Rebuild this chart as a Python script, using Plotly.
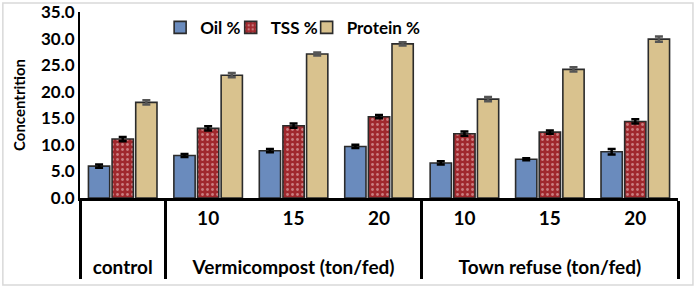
import plotly.graph_objects as go

groups = ["control", "Vermicompost (ton/fed)", "Vermicompost (ton/fed)", "Vermicompost (ton/fed)",
          "Town refuse (ton/fed)", "Town refuse (ton/fed)", "Town refuse (ton/fed)"]
doses = [" ", "10", "15", "20", "10", "15", "20"]

oil = [6.0, 8.0, 8.9, 9.7, 6.6, 7.3, 8.7]
oil_err = [0.3, 0.3, 0.3, 0.3, 0.3, 0.2, 0.5]
tss = [11.1, 13.1, 13.6, 15.3, 12.1, 12.4, 14.4]
tss_err = [0.4, 0.4, 0.4, 0.3, 0.4, 0.3, 0.4]
protein = [18.0, 23.1, 27.1, 29.0, 18.6, 24.2, 29.9]
protein_err = [0.4, 0.4, 0.3, 0.3, 0.4, 0.4, 0.5]

FONT = "Lato"
# outer labels get a leading line break so the second label row sits lower
x = [["<br>" + g for g in groups], doses]

fig = go.Figure()
fig.add_trace(go.Bar(
    name="Oil %", x=x, y=oil, legend="legend",
    error_y=dict(type="data", array=oil_err, color="black", thickness=2.5, width=4),
    marker=dict(color="#6a8bbd", line=dict(color="#2b2b2b", width=1.6)),
))
fig.add_trace(go.Bar(
    name="TSS %", x=x, y=tss, legend="legend2",
    error_y=dict(type="data", array=tss_err, color="black", thickness=2.5, width=4),
    marker=dict(color="#a0282d", line=dict(color="#2b2b2b", width=1.6),
                pattern=dict(shape=".", fgcolor="#f3d6d6", bgcolor="#a0282d", size=5, solidity=0.25)),
))
fig.add_trace(go.Bar(
    name="Protein %", x=x, y=protein, legend="legend3",
    error_y=dict(type="data", array=protein_err, color="#555555", thickness=2.5, width=4),
    marker=dict(color="#d9c28e", line=dict(color="#2b2b2b", width=1.6)),
))

leg_common = dict(orientation="h", xanchor="left", y=0.915, yanchor="middle",
                  font=dict(family=FONT, size=17, color="black", weight="bold"),
                  bgcolor="rgba(0,0,0,0)", itemwidth=30)

fig.update_layout(
    width=698, height=290,
    margin=dict(l=80, r=20, t=12, b=92, autoexpand=False),
    paper_bgcolor="white", plot_bgcolor="white",
    barmode="group", bargap=0.17, bargroupgap=0.1,
    font=dict(family=FONT, color="black"),
    showlegend=True,
    legend=dict(x=0.134, **leg_common),
    legend2=dict(x=0.252, **leg_common),
    legend3=dict(x=0.379, **leg_common),
    shapes=[dict(type="rect", xref="paper", yref="paper",
                 x0=-0.129, x1=1.025, y0=-0.468, y1=1.048,
                 line=dict(color="#d9d9d9", width=1.5), layer="below")],
)
fig.update_yaxes(
    range=[0, 35], dtick=5, tickformat=".1f",
    showgrid=False, zeroline=False,
    showline=True, linecolor="black", linewidth=2,
    ticks="", tickfont=dict(family=FONT, size=17, color="black", weight="bold"),
    ticklabeloverflow="allow",
    title=dict(text="Concentrition", font=dict(family=FONT, size=15, color="black", weight="bold"), standoff=12),
    automargin=False,
)
fig.update_xaxes(
    type="multicategory",
    showgrid=False, zeroline=False,
    showline=True, linecolor="black", linewidth=3,
    ticks="", ticklabelstandoff=1,
    showdividers=True, dividercolor="black", dividerwidth=3,
    tickfont=dict(family=FONT, size=19, color="black", weight="bold"),
    automargin=False,
)

fig.write_html("out.html")
